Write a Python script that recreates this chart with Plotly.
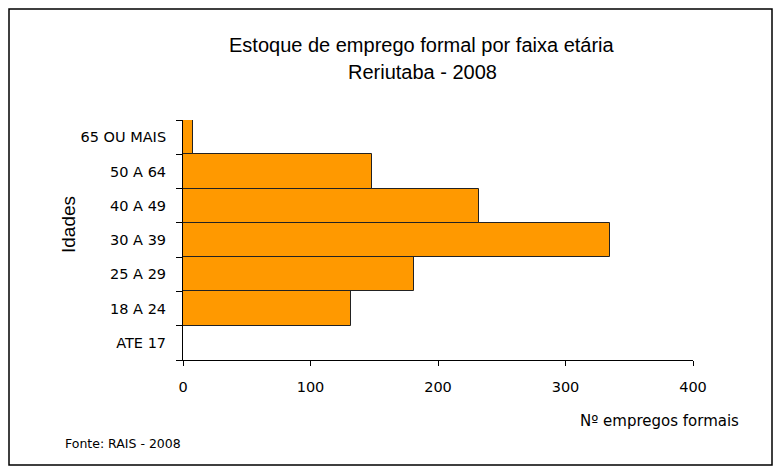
import plotly.graph_objects as go

categories = ["ATE 17", "18 A 24", "25 A 29", "30 A 39", "40 A 49", "50 A 64", "65 OU MAIS"]
values = [0, 132, 181, 335, 232, 148, 8]
x_ticks = [0, 100, 200, 300, 400]

OFF = 8  # page body margin
W, H = 782 - OFF, 474 - OFF
L, T = 183 - OFF, 120 - OFF
R = W - (693 - OFF)
B = H - (360 - OFF)
pw, ph = W - L - R, H - T - B

def px(x):
    return (x - OFF - L) / pw

def py(y):
    return (H - B - (y - OFF)) / ph

fig = go.Figure(go.Bar(
    x=values, y=categories, orientation="h",
    marker=dict(color="#FF9900", line=dict(color="#222222", width=1)),
))

tick_font = dict(family="DejaVu Sans", size=14.5, color="#000000")
fig.update_layout(
    width=W, height=H,
    margin=dict(l=L, r=R, t=T, b=B),
    paper_bgcolor="white", plot_bgcolor="white",
    showlegend=False, bargap=0,
    font=tick_font,
    xaxis=dict(range=[0, 400], tickvals=x_ticks, showline=True, linecolor="#000000",
               linewidth=1, ticks="outside", ticklen=5, tickcolor="#000000",
               showgrid=False, zeroline=False, tickfont=tick_font, ticklabelstandoff=9,
               fixedrange=True),
    yaxis=dict(categoryorder="array", categoryarray=categories, range=[-0.5, 6.5],
               showline=True, linecolor="#000000", linewidth=1, ticks="outside",
               tickson="boundaries", ticklen=6, tickcolor="#000000", showgrid=False,
               zeroline=False, tickfont=tick_font, ticklabelstandoff=13, fixedrange=True),
)

title_font = dict(family="Liberation Sans", size=20, color="#000000")
fig.add_annotation(text="Estoque de emprego formal por faixa etária", xref="paper", yref="paper",
                   x=px(422), y=py(45), showarrow=False, font=title_font,
                   xanchor="center", yanchor="middle")
fig.add_annotation(text="Reriutaba - 2008", xref="paper", yref="paper",
                   x=px(422), y=py(72), showarrow=False, font=title_font,
                   xanchor="center", yanchor="middle")
fig.add_annotation(text="Idades", xref="paper", yref="paper", x=px(68), y=py(225),
                   showarrow=False, textangle=-90, font=dict(family="Liberation Sans", size=19),
                   xanchor="center", yanchor="middle")
fig.add_annotation(text="Nº empregos formais", xref="paper", yref="paper", x=px(741), y=py(421),
                   showarrow=False, font=dict(family="DejaVu Sans", size=15),
                   xanchor="right", yanchor="middle")
fig.add_annotation(text="Fonte: RAIS - 2008", xref="paper", yref="paper", x=px(63), y=py(443),
                   showarrow=False, font=dict(family="DejaVu Sans", size=12.5),
                   xanchor="left", yanchor="middle")

fig.add_shape(type="rect", xref="paper", yref="paper",
              x0=px(9), x1=px(772), y0=py(465), y1=py(9),
              line=dict(color="#000000", width=1.5), fillcolor="rgba(0,0,0,0)")

fig.write_html("out.html")
